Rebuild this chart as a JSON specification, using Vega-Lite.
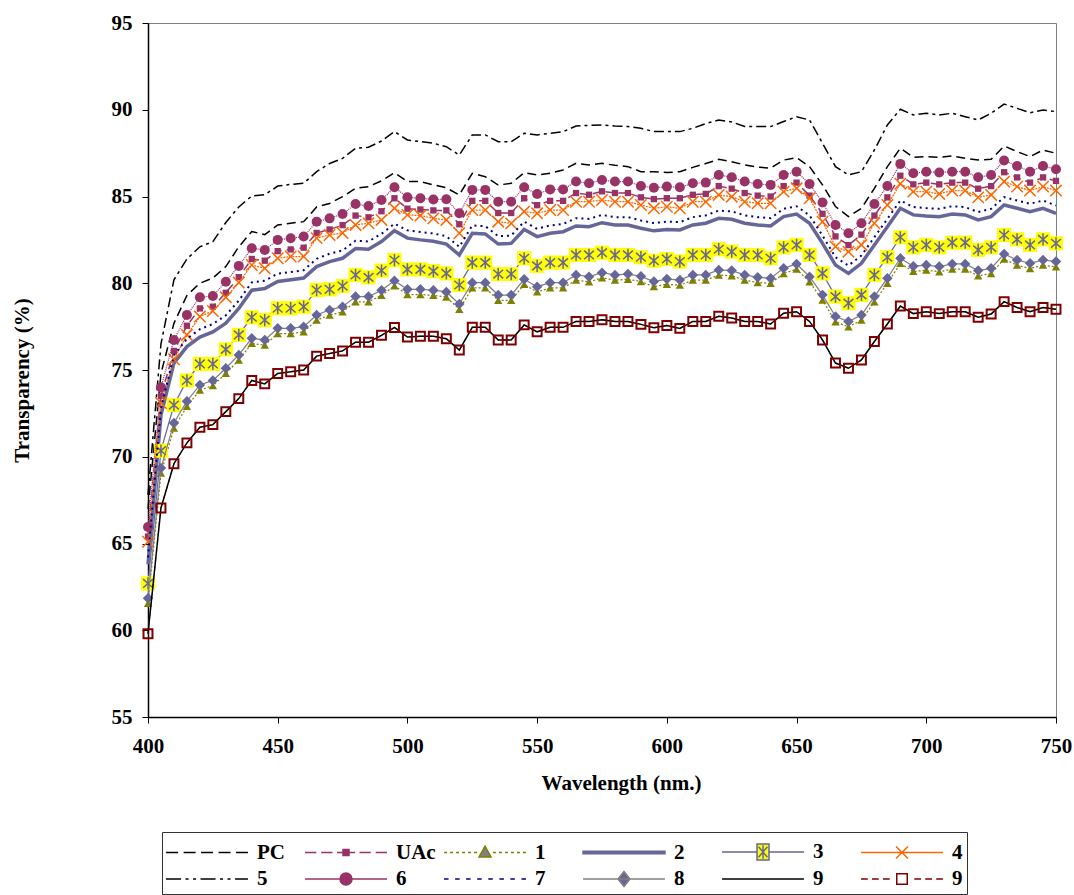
{
  "$schema": "https://vega.github.io/schema/vega-lite/v6.json",
  "width": 908,
  "height": 694,
  "autosize": {"type": "none"},
  "padding": {"left": 148, "top": 23, "right": 18, "bottom": 178},
  "background": "white",
  "data": {"values": [
    {"w":400,"PC":67.0,"UAc":65.4,"s1":61.55,"s2":63.8,"s3":62.7,"s4":65.1,"s5":67.8,"s6":65.95,"s7":64.2,"s8":61.85,"s9":59.8},
    {"w":405,"PC":74.8,"UAc":73.5,"s1":69.05,"s2":72.4,"s3":70.35,"s4":73.1,"s5":76.5,"s6":74.0,"s7":72.8,"s8":69.35,"s9":67.05},
    {"w":410,"PC":77.69,"UAc":76.1,"s1":71.65,"s2":75.4,"s3":72.98,"s4":75.62,"s5":80.2,"s6":76.73,"s7":75.85,"s8":71.95,"s9":69.6},
    {"w":415,"PC":79.3,"UAc":77.55,"s1":72.9,"s2":76.35,"s3":74.4,"s4":77.02,"s5":81.4,"s6":78.17,"s7":76.8,"s8":73.2,"s9":70.8},
    {"w":420,"PC":80.0,"UAc":78.55,"s1":73.84,"s2":76.9,"s3":75.35,"s4":78.08,"s5":82.1,"s6":79.19,"s7":77.35,"s8":74.14,"s9":71.7},
    {"w":425,"PC":80.3,"UAc":78.65,"s1":74.1,"s2":77.2,"s3":75.35,"s4":78.4,"s5":82.4,"s6":79.27,"s7":77.65,"s8":74.4,"s9":71.85},
    {"w":430,"PC":80.96,"UAc":79.45,"s1":74.8,"s2":77.7,"s3":76.19,"s4":79.19,"s5":83.5,"s6":80.09,"s7":78.15,"s8":75.1,"s9":72.6},
    {"w":435,"PC":82.1,"UAc":80.35,"s1":75.57,"s2":78.55,"s3":77.02,"s4":80.04,"s5":84.4,"s6":81.0,"s7":79.0,"s8":75.87,"s9":73.35},
    {"w":440,"PC":82.98,"UAc":81.4,"s1":76.53,"s2":79.6,"s3":78.04,"s4":81.05,"s5":85.03,"s6":82.02,"s7":80.05,"s8":76.83,"s9":74.4},
    {"w":445,"PC":82.8,"UAc":81.3,"s1":76.43,"s2":79.7,"s3":77.88,"s4":80.86,"s5":85.1,"s6":81.92,"s7":80.15,"s8":76.73,"s9":74.2},
    {"w":450,"PC":83.36,"UAc":81.85,"s1":77.1,"s2":80.1,"s3":78.56,"s4":81.44,"s5":85.6,"s6":82.5,"s7":80.55,"s8":77.4,"s9":74.8},
    {"w":455,"PC":83.46,"UAc":81.95,"s1":77.1,"s2":80.2,"s3":78.56,"s4":81.54,"s5":85.7,"s6":82.59,"s7":80.65,"s8":77.4,"s9":74.9},
    {"w":460,"PC":83.55,"UAc":82.05,"s1":77.2,"s2":80.3,"s3":78.65,"s4":81.54,"s5":85.76,"s6":82.69,"s7":80.75,"s8":77.5,"s9":75.0},
    {"w":465,"PC":84.4,"UAc":82.9,"s1":77.87,"s2":80.96,"s3":79.61,"s4":82.6,"s5":86.43,"s6":83.55,"s7":81.41,"s8":78.17,"s9":75.8},
    {"w":470,"PC":84.6,"UAc":83.1,"s1":78.16,"s2":81.25,"s3":79.65,"s4":82.78,"s5":86.9,"s6":83.74,"s7":81.7,"s8":78.46,"s9":75.95},
    {"w":475,"PC":84.99,"UAc":83.35,"s1":78.35,"s2":81.44,"s3":79.84,"s4":82.9,"s5":87.2,"s6":83.99,"s7":81.89,"s8":78.65,"s9":76.1},
    {"w":480,"PC":85.47,"UAc":83.9,"s1":78.93,"s2":82.0,"s3":80.48,"s4":83.36,"s5":87.78,"s6":84.57,"s7":82.45,"s8":79.23,"s9":76.6},
    {"w":485,"PC":85.57,"UAc":83.8,"s1":78.93,"s2":81.96,"s3":80.34,"s4":83.46,"s5":87.84,"s6":84.45,"s7":82.41,"s8":79.23,"s9":76.6},
    {"w":490,"PC":85.9,"UAc":84.15,"s1":79.3,"s2":82.4,"s3":80.73,"s4":83.65,"s5":88.2,"s6":84.8,"s7":82.85,"s8":79.6,"s9":77.0},
    {"w":495,"PC":86.37,"UAc":84.9,"s1":79.85,"s2":83.03,"s3":81.34,"s4":84.32,"s5":88.74,"s6":85.53,"s7":83.43,"s8":80.15,"s9":77.45},
    {"w":500,"PC":85.86,"UAc":84.3,"s1":79.35,"s2":82.6,"s3":80.8,"s4":83.94,"s5":88.26,"s6":84.95,"s7":83.05,"s8":79.65,"s9":76.9},
    {"w":505,"PC":85.86,"UAc":84.25,"s1":79.35,"s2":82.5,"s3":80.8,"s4":83.9,"s5":88.16,"s6":84.9,"s7":82.95,"s8":79.65,"s9":76.95},
    {"w":510,"PC":85.67,"UAc":84.2,"s1":79.3,"s2":82.42,"s3":80.7,"s4":83.74,"s5":88.07,"s6":84.83,"s7":82.87,"s8":79.6,"s9":76.95},
    {"w":515,"PC":85.5,"UAc":84.2,"s1":79.2,"s2":82.26,"s3":80.57,"s4":83.65,"s5":87.87,"s6":84.84,"s7":82.71,"s8":79.5,"s9":76.8},
    {"w":520,"PC":85.09,"UAc":83.4,"s1":78.5,"s2":81.63,"s3":79.9,"s4":82.88,"s5":87.39,"s6":84.03,"s7":82.1,"s8":78.8,"s9":76.15},
    {"w":525,"PC":86.34,"UAc":84.75,"s1":79.73,"s2":82.88,"s3":81.19,"s4":84.22,"s5":88.55,"s6":85.38,"s7":83.33,"s8":80.03,"s9":77.46},
    {"w":530,"PC":86.14,"UAc":84.75,"s1":79.73,"s2":82.84,"s3":81.19,"s4":84.22,"s5":88.55,"s6":85.38,"s7":83.29,"s8":80.03,"s9":77.46},
    {"w":535,"PC":85.66,"UAc":84.05,"s1":79.02,"s2":82.26,"s3":80.53,"s4":83.55,"s5":88.16,"s6":84.7,"s7":82.71,"s8":79.32,"s9":76.73},
    {"w":540,"PC":85.76,"UAc":84.05,"s1":79.02,"s2":82.3,"s3":80.53,"s4":83.45,"s5":88.16,"s6":84.7,"s7":82.75,"s8":79.32,"s9":76.73},
    {"w":545,"PC":86.37,"UAc":84.9,"s1":79.93,"s2":83.1,"s3":81.44,"s4":84.13,"s5":88.64,"s6":85.53,"s7":83.55,"s8":80.23,"s9":77.6},
    {"w":550,"PC":86.24,"UAc":84.5,"s1":79.5,"s2":82.69,"s3":81.0,"s4":84.03,"s5":88.55,"s6":85.14,"s7":83.14,"s8":79.8,"s9":77.2},
    {"w":555,"PC":86.34,"UAc":84.75,"s1":79.73,"s2":82.88,"s3":81.19,"s4":84.22,"s5":88.64,"s6":85.41,"s7":83.33,"s8":80.03,"s9":77.46},
    {"w":560,"PC":86.53,"UAc":84.75,"s1":79.73,"s2":82.97,"s3":81.19,"s4":84.22,"s5":88.74,"s6":85.41,"s7":83.42,"s8":80.03,"s9":77.46},
    {"w":565,"PC":86.91,"UAc":85.2,"s1":80.18,"s2":83.3,"s3":81.63,"s4":84.7,"s5":89.06,"s6":85.86,"s7":83.75,"s8":80.48,"s9":77.8},
    {"w":570,"PC":86.82,"UAc":85.1,"s1":80.08,"s2":83.26,"s3":81.63,"s4":84.7,"s5":89.1,"s6":85.76,"s7":83.71,"s8":80.38,"s9":77.8},
    {"w":575,"PC":86.91,"UAc":85.3,"s1":80.31,"s2":83.49,"s3":81.76,"s4":84.8,"s5":89.12,"s6":85.95,"s7":83.94,"s8":80.61,"s9":77.9},
    {"w":580,"PC":86.8,"UAc":85.2,"s1":80.18,"s2":83.36,"s3":81.63,"s4":84.7,"s5":89.06,"s6":85.86,"s7":83.81,"s8":80.48,"s9":77.8},
    {"w":585,"PC":86.72,"UAc":85.2,"s1":80.23,"s2":83.36,"s3":81.63,"s4":84.7,"s5":89.03,"s6":85.86,"s7":83.81,"s8":80.53,"s9":77.8},
    {"w":590,"PC":86.43,"UAc":84.95,"s1":80.1,"s2":83.17,"s3":81.5,"s4":84.51,"s5":88.93,"s6":85.61,"s7":83.62,"s8":80.4,"s9":77.63},
    {"w":595,"PC":86.43,"UAc":84.85,"s1":79.8,"s2":83.02,"s3":81.3,"s4":84.32,"s5":88.74,"s6":85.5,"s7":83.47,"s8":80.1,"s9":77.43},
    {"w":600,"PC":86.38,"UAc":84.9,"s1":79.94,"s2":83.1,"s3":81.4,"s4":84.41,"s5":88.74,"s6":85.57,"s7":83.55,"s8":80.24,"s9":77.57},
    {"w":605,"PC":86.43,"UAc":84.9,"s1":79.89,"s2":83.07,"s3":81.25,"s4":84.32,"s5":88.74,"s6":85.53,"s7":83.52,"s8":80.19,"s9":77.4},
    {"w":610,"PC":86.68,"UAc":85.1,"s1":80.18,"s2":83.36,"s3":81.63,"s4":84.7,"s5":88.93,"s6":85.76,"s7":83.81,"s8":80.48,"s9":77.8},
    {"w":615,"PC":86.9,"UAc":85.15,"s1":80.18,"s2":83.46,"s3":81.63,"s4":84.7,"s5":89.2,"s6":85.8,"s7":83.91,"s8":80.48,"s9":77.8},
    {"w":620,"PC":87.14,"UAc":85.6,"s1":80.47,"s2":83.74,"s3":81.96,"s4":85.09,"s5":89.41,"s6":86.24,"s7":84.19,"s8":80.77,"s9":78.1},
    {"w":625,"PC":87.0,"UAc":85.45,"s1":80.43,"s2":83.69,"s3":81.82,"s4":84.99,"s5":89.3,"s6":86.11,"s7":84.14,"s8":80.73,"s9":78.0},
    {"w":630,"PC":86.82,"UAc":85.2,"s1":80.18,"s2":83.46,"s3":81.63,"s4":84.7,"s5":89.03,"s6":85.86,"s7":83.91,"s8":80.48,"s9":77.8},
    {"w":635,"PC":86.7,"UAc":85.05,"s1":80.04,"s2":83.36,"s3":81.63,"s4":84.61,"s5":89.03,"s6":85.72,"s7":83.81,"s8":80.34,"s9":77.8},
    {"w":640,"PC":86.63,"UAc":85.0,"s1":79.99,"s2":83.3,"s3":81.44,"s4":84.61,"s5":89.03,"s6":85.67,"s7":83.75,"s8":80.29,"s9":77.65},
    {"w":645,"PC":87.1,"UAc":85.6,"s1":80.56,"s2":83.84,"s3":82.07,"s4":85.28,"s5":89.32,"s6":86.24,"s7":84.29,"s8":80.86,"s9":78.27},
    {"w":650,"PC":87.24,"UAc":85.8,"s1":80.81,"s2":83.99,"s3":82.21,"s4":85.47,"s5":89.6,"s6":86.43,"s7":84.44,"s8":81.11,"s9":78.36},
    {"w":655,"PC":86.72,"UAc":85.05,"s1":80.08,"s2":83.46,"s3":81.63,"s4":84.9,"s5":89.41,"s6":85.72,"s7":83.91,"s8":80.38,"s9":77.8},
    {"w":660,"PC":85.67,"UAc":84.0,"s1":79.03,"s2":82.3,"s3":80.57,"s4":83.55,"s5":88.07,"s6":84.65,"s7":82.75,"s8":79.33,"s9":76.73},
    {"w":665,"PC":84.42,"UAc":82.7,"s1":77.78,"s2":81.05,"s3":79.23,"s4":82.11,"s5":86.72,"s6":83.36,"s7":81.5,"s8":78.08,"s9":75.4},
    {"w":670,"PC":83.84,"UAc":82.2,"s1":77.49,"s2":80.57,"s3":78.85,"s4":81.82,"s5":86.24,"s6":82.88,"s7":81.02,"s8":77.79,"s9":75.1},
    {"w":675,"PC":84.32,"UAc":82.8,"s1":77.87,"s2":81.15,"s3":79.33,"s4":82.21,"s5":86.43,"s6":83.46,"s7":81.6,"s8":78.17,"s9":75.58},
    {"w":680,"PC":85.47,"UAc":83.9,"s1":78.93,"s2":82.21,"s3":80.48,"s4":83.46,"s5":87.68,"s6":84.57,"s7":82.66,"s8":79.23,"s9":76.64},
    {"w":685,"PC":86.72,"UAc":84.95,"s1":79.99,"s2":83.26,"s3":81.5,"s4":84.51,"s5":89.12,"s6":85.61,"s7":83.71,"s8":80.29,"s9":77.65},
    {"w":690,"PC":87.78,"UAc":86.2,"s1":81.14,"s2":84.32,"s3":82.65,"s4":85.74,"s5":90.03,"s6":86.88,"s7":84.77,"s8":81.44,"s9":78.69},
    {"w":695,"PC":87.26,"UAc":85.7,"s1":80.68,"s2":83.94,"s3":82.07,"s4":85.28,"s5":89.7,"s6":86.34,"s7":84.39,"s8":80.98,"s9":78.25},
    {"w":700,"PC":87.3,"UAc":85.8,"s1":80.75,"s2":83.88,"s3":82.21,"s4":85.28,"s5":89.8,"s6":86.43,"s7":84.33,"s8":81.05,"s9":78.36},
    {"w":705,"PC":87.26,"UAc":85.7,"s1":80.66,"s2":83.84,"s3":82.07,"s4":85.15,"s5":89.7,"s6":86.38,"s7":84.29,"s8":80.96,"s9":78.25},
    {"w":710,"PC":87.34,"UAc":85.8,"s1":80.81,"s2":83.99,"s3":82.34,"s4":85.34,"s5":89.8,"s6":86.43,"s7":84.44,"s8":81.11,"s9":78.36},
    {"w":715,"PC":87.2,"UAc":85.8,"s1":80.81,"s2":83.94,"s3":82.34,"s4":85.34,"s5":89.6,"s6":86.43,"s7":84.39,"s8":81.11,"s9":78.36},
    {"w":720,"PC":87.11,"UAc":85.45,"s1":80.43,"s2":83.65,"s3":81.92,"s4":84.95,"s5":89.41,"s6":86.11,"s7":84.1,"s8":80.73,"s9":78.04},
    {"w":725,"PC":87.14,"UAc":85.6,"s1":80.56,"s2":83.84,"s3":82.07,"s4":85.09,"s5":89.8,"s6":86.24,"s7":84.29,"s8":80.86,"s9":78.23},
    {"w":730,"PC":87.91,"UAc":86.4,"s1":81.39,"s2":84.51,"s3":82.78,"s4":85.86,"s5":90.33,"s6":87.07,"s7":84.96,"s8":81.69,"s9":78.94},
    {"w":735,"PC":87.59,"UAc":86.1,"s1":81.04,"s2":84.32,"s3":82.53,"s4":85.57,"s5":90.08,"s6":86.76,"s7":84.77,"s8":81.34,"s9":78.6},
    {"w":740,"PC":87.3,"UAc":85.8,"s1":80.85,"s2":84.13,"s3":82.21,"s4":85.34,"s5":89.83,"s6":86.43,"s7":84.58,"s8":81.15,"s9":78.36},
    {"w":745,"PC":87.68,"UAc":86.1,"s1":81.04,"s2":84.32,"s3":82.53,"s4":85.57,"s5":89.99,"s6":86.76,"s7":84.77,"s8":81.34,"s9":78.6},
    {"w":750,"PC":87.49,"UAc":85.9,"s1":80.95,"s2":84.03,"s3":82.3,"s4":85.34,"s5":89.89,"s6":86.57,"s7":84.48,"s8":81.25,"s9":78.5}
  ]},
  "transform": [{"fold": ["PC","UAc","s1","s2","s3","s4","s5","s6","s7","s8","s9"], "as": ["series","v"]}],
  "encoding": {
    "x": {"field": "w", "type": "quantitative", "scale": {"domain": [400, 750], "nice": false, "zero": false},
      "axis": {"title": "Wavelength (nm.)", "values": [400,450,500,550,600,650,700,750], "labelFlush": false, "labelPadding": 12, "titlePadding": 16, "titleX": 473}},
    "y": {"field": "v", "type": "quantitative", "scale": {"domain": [55, 95], "nice": false, "zero": false},
      "axis": {"title": "Transparency (%)", "values": [55,60,65,70,75,80,85,90,95], "labelPadding": 10, "titlePadding": 79, "titleY": 357}}
  },
  "layer": [
    {"transform": [{"filter": {"field": "series", "equal": "PC"}}], "mark": {"type": "line", "color": "black", "strokeWidth": 1.5, "strokeDash": [9, 5]}},
    {"transform": [{"filter": {"field": "series", "equal": "UAc"}}], "mark": {"type": "line", "color": "#993366", "strokeWidth": 1.5, "strokeDash": [8, 5]}},
    {"transform": [{"filter": {"field": "series", "equal": "UAc"}}], "mark": {"type": "point", "shape": "square", "filled": true, "color": "#993366", "size": 40, "opacity": 1}},
    {"transform": [{"filter": {"field": "series", "equal": "s1"}}], "mark": {"type": "line", "color": "#808000", "strokeWidth": 1.25, "strokeDash": [2, 2]}},
    {"transform": [{"filter": {"field": "series", "equal": "s1"}}], "mark": {"type": "point", "shape": "triangle-up", "filled": true, "color": "#808000", "size": 70, "opacity": 1}},
    {"transform": [{"filter": {"field": "series", "equal": "s2"}}], "mark": {"type": "line", "color": "#666699", "strokeWidth": 3.5}},
    {"transform": [{"filter": {"field": "series", "equal": "s3"}}], "mark": {"type": "line", "color": "#666699", "strokeWidth": 1.25}},
    {"transform": [{"filter": {"field": "series", "equal": "s3"}}], "mark": {"type": "point", "shape": "square", "filled": true, "color": "#FFFF00", "size": 200, "opacity": 1}},
    {"transform": [{"filter": {"field": "series", "equal": "s3"}}], "mark": {"type": "point", "shape": "M0,-1V1M-0.8,-0.7L0.8,0.7M-0.8,0.7L0.8,-0.7", "filled": false, "color": "#666699", "strokeWidth": 1.5, "size": 150, "opacity": 1}},
    {"transform": [{"filter": {"field": "series", "equal": "s4"}}], "mark": {"type": "line", "color": "#FF6600", "strokeWidth": 1.25, "strokeDash": [2, 1]}},
    {"transform": [{"filter": {"field": "series", "equal": "s4"}}], "mark": {"type": "point", "shape": "M-1,-1L1,1M-1,1L1,-1", "filled": false, "color": "#FF6600", "strokeWidth": 1.5, "size": 130, "opacity": 1}},
    {"transform": [{"filter": {"field": "series", "equal": "s5"}}], "mark": {"type": "line", "color": "black", "strokeWidth": 1.5, "strokeDash": [10, 4, 3, 4]}},
    {"transform": [{"filter": {"field": "series", "equal": "s6"}}], "mark": {"type": "line", "color": "#993366", "strokeWidth": 1.25, "strokeDash": [1, 1]}},
    {"transform": [{"filter": {"field": "series", "equal": "s6"}}], "mark": {"type": "point", "shape": "circle", "filled": true, "color": "#993366", "size": 100, "opacity": 1}},
    {"transform": [{"filter": {"field": "series", "equal": "s7"}}], "mark": {"type": "line", "color": "#000080", "strokeWidth": 2, "strokeDash": [2, 4]}},
    {"transform": [{"filter": {"field": "series", "equal": "s8"}}], "mark": {"type": "line", "color": "#808080", "strokeWidth": 1.25}},
    {"transform": [{"filter": {"field": "series", "equal": "s8"}}], "mark": {"type": "point", "shape": "diamond", "filled": true, "color": "#666699", "size": 110, "opacity": 1}},
    {"transform": [{"filter": {"field": "series", "equal": "s9"}}], "mark": {"type": "line", "color": "#808080", "strokeWidth": 1.25, "strokeDash": [5, 4]}},
    {"transform": [{"filter": {"field": "series", "equal": "s9"}}], "mark": {"type": "line", "color": "black", "strokeWidth": 1.5}},
    {"transform": [{"filter": {"field": "series", "equal": "s9"}}], "mark": {"type": "point", "shape": "square", "filled": false, "color": "#800000", "strokeWidth": 2, "size": 80, "opacity": 1}},
    {"transform": [{"filter": {"field": "series", "equal": "none"}}],
      "mark": {"type": "point", "filled": true, "opacity": 1, "strokeWidth": 1.5},
      "encoding": {
        "shape": {"field": "series", "type": "nominal",
          "scale": {"domain": ["PC","UAc","1","2","3","4","5","6","7","8","9a","9b"],
            "range": [
              "M-2.73,0h0.8M-1.56,0h0.8M-0.4,0h0.8M0.77,0h0.8M1.93,0h0.8",
              "M-2.73,0h0.75M-1.65,0h0.75M-0.6,0h1.2M0.9,0h0.75M1.98,0h0.75M-0.2,-0.2h0.4v0.4h-0.4z",
              "M-2.73,0h0.2M-2.33,0h0.2M-1.93,0h0.2M-1.53,0h0.2M-1.13,0h0.2M-0.73,0h0.2M0.53,0h0.2M0.93,0h0.2M1.33,0h0.2M1.73,0h0.2M2.13,0h0.2M2.53,0h0.2M0,-0.42L0.4,0.3L-0.4,0.3z",
              "M-2.73,-0.08h5.46v0.16h-5.46z",
              "M-2.73,0H-0.4M0.4,0H2.73M-0.4,-0.53h0.8v1.06h-0.8zM0,-0.45V0.45M-0.3,-0.35L0.3,0.35M-0.3,0.35L0.3,-0.35",
              "M-2.73,0h5.46M-0.4,-0.4L0.4,0.4M-0.4,0.4L0.4,-0.4",
              "M-2.73,0h1M-1.43,0h0.2M-0.93,0h0.2M-0.43,0h1M0.87,0h0.2M1.37,0h0.2M1.87,0h0.86",
              "M-2.73,0h5.46M0.4,0A0.4,0.4,0,1,1,-0.4,0A0.4,0.4,0,1,1,0.4,0z",
              "M-2.73,0h0.3M-1.99,0h0.3M-1.26,0h0.3M-0.52,0h0.3M0.22,0h0.3M0.96,0h0.3M1.69,0h0.3M2.43,0h0.3",
              "M-2.73,0h5.46M0,-0.5L0.4,0L0,0.5L-0.4,0z",
              "M-2.73,0h5.46",
              "M-2.73,0h0.45M-2.0,0h0.45M-1.27,0h0.45M0.82,0h0.45M1.55,0h0.45M2.28,0h0.45M-0.35,-0.35h0.7v0.7h-0.7z"
            ]},
          "legend": {"orient": "none", "legendX": 14, "legendY": 809, "columns": 6, "direction": "horizontal", "gridAlign": "all", "columnPadding": 5, "rowPadding": 0,
            "symbolSize": 900, "symbolOffset": 25, "labelOffset": 34, "symbolStrokeWidth": 1.5,
            "labelFont": "Liberation Serif", "labelFontSize": 21, "labelFontWeight": "bold", "labelColor": "black",
            "padding": 4, "strokeColor": "#333333", "title": null,
            "labelExpr": "datum.label == '9a' || datum.label == '9b' ? '9' : datum.label"}},
        "stroke": {"field": "series", "type": "nominal",
          "scale": {"domain": ["PC","UAc","1","2","3","4","5","6","7","8","9a","9b"],
            "range": ["black","#993366","#808000","#666699","#666699","#FF6600","black","#993366","#000080","#808080","black","#800000"]},
          "legend": {"orient": "none", "legendX": 14, "legendY": 809, "columns": 6, "direction": "horizontal", "title": null}},
        "fill": {"field": "series", "type": "nominal",
          "scale": {"domain": ["PC","UAc","1","2","3","4","5","6","7","8","9a","9b"],
            "range": ["black","#993366","#808080","#666699","#FFFF00","#FF6600","black","#993366","#000080","#666699","black","white"]},
          "legend": {"orient": "none", "legendX": 14, "legendY": 809, "columns": 6, "direction": "horizontal", "title": null}}
      }}
  ],
  "config": {
    "view": {"stroke": "#808080", "strokeWidth": 1},
    "font": "Liberation Serif",
    "axis": {"grid": false, "domainColor": "black", "domainWidth": 1.5, "tickColor": "black", "tickSize": 6, "tickWidth": 1,
      "labelFont": "Liberation Serif", "labelFontSize": 21, "labelFontWeight": "bold", "labelColor": "black",
      "titleFont": "Liberation Serif", "titleFontSize": 21, "titleFontWeight": "bold", "titleColor": "black"}
  }
}
